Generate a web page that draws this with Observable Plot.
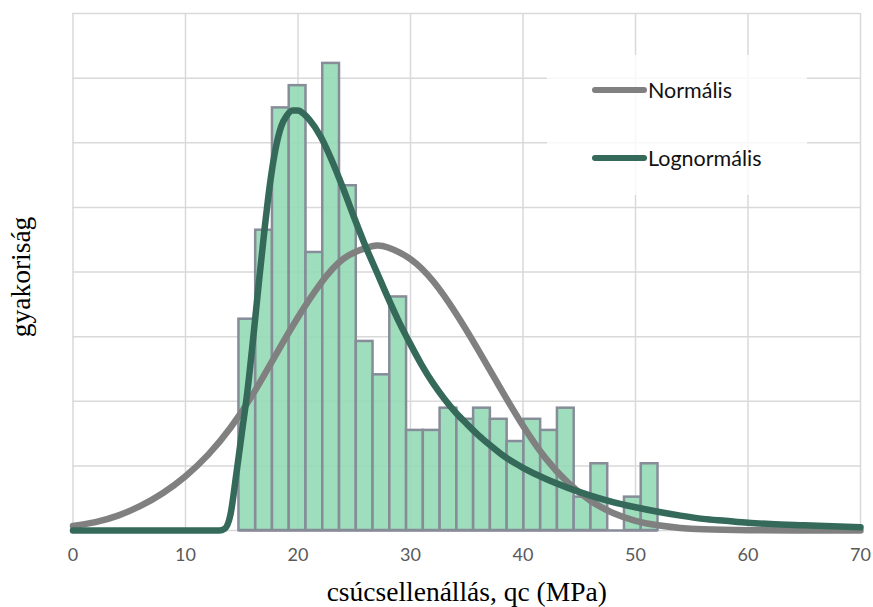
<!DOCTYPE html>
<html>
<head>
<meta charset="utf-8">
<script src="https://cdn.jsdelivr.net/npm/d3@7"></script>
<script src="https://cdn.jsdelivr.net/npm/@observablehq/plot@0.6"></script>
<style>
  body { margin: 0; background: #fff; }
  #wrap { position: relative; width: 873px; height: 607px; }
  #legend { position: absolute; left: 547px; top: 55px; width: 260px; height: 140px;
            background: rgba(255,255,255,0.8); font-family: Lato, "Open Sans", sans-serif; font-size: 21.5px; color: #111; }
  .item { position: absolute; left: 44px; display: flex; align-items: center; }
  .item svg { display: block; margin-right: 0px; }
</style>
</head>
<body>
<div id="wrap"><div id="legend"></div></div>
<script>
// ---- data ----
const binEdges = [14.75, 16.24, 17.73, 19.22, 20.71, 22.20, 23.69, 25.18, 26.67, 28.16,
                  29.65, 31.14, 32.63, 34.12, 35.61, 37.10, 38.59, 40.08, 41.57, 43.06,
                  44.55, 46.04, 47.53, 49.02, 50.51, 52.00];
const binCounts = [19, 27, 38, 40, 25, 42, 31, 17, 14, 21,
                   9, 9, 11, 10, 11, 10, 8, 10, 9, 11,
                   3, 6, 0, 3, 6];

const normalX = [0, 2, 4, 6, 8, 10, 12, 14, 16, 18, 20, 22, 24, 26, 27, 28, 30, 32, 34, 36, 38, 40, 42, 44, 46, 48, 50, 52, 54, 56, 60, 65, 70];
const normalY = [0.0007, 0.0013, 0.0023, 0.0038, 0.0058, 0.0084, 0.0117, 0.0159, 0.0211, 0.0271, 0.0330, 0.0382, 0.0420, 0.0437, 0.0441, 0.0438, 0.0420, 0.0386, 0.0337, 0.0280, 0.0220, 0.0162, 0.0112, 0.0074, 0.0046, 0.0027, 0.0015, 0.0008, 0.0004, 0.0002, 0.00005, 0, 0];

const lognormX = [0, 5, 10, 12, 13, 13.5, 14, 14.5, 15, 15.5, 16, 16.5, 17, 17.5, 18, 18.5, 19, 19.5, 20, 20.5, 21, 22, 23, 24, 25, 26, 27, 28, 29, 30, 31, 32, 33, 34, 35, 36, 37, 38, 39, 40, 42, 44, 46, 48, 50, 52, 54, 56, 58, 60, 62, 65, 70];
const lognormY = [0, 0, 0, 0, 0, 0.0003, 0.0025, 0.0085, 0.0150, 0.0215, 0.0295, 0.0380, 0.0462, 0.0535, 0.0590, 0.0625, 0.0642, 0.0650, 0.0650, 0.0645, 0.0636, 0.0610, 0.0573, 0.0530, 0.0484, 0.0440, 0.0400, 0.0360, 0.0322, 0.0288, 0.0256, 0.0228, 0.0204, 0.0183, 0.0165, 0.0148, 0.0133, 0.0119, 0.0107, 0.0097, 0.0080, 0.0066, 0.0054, 0.0044, 0.0036, 0.0029, 0.0023, 0.0018, 0.0015, 0.0012, 0.0010, 0.0008, 0.0005];

const xTicks = [0, 10, 20, 30, 40, 50, 60, 70];
const yGrid = [0, 0.01, 0.02, 0.03, 0.04, 0.05, 0.06, 0.07, 0.08];
const xTitle = "csúcsellenállás, qc (MPa)";
const yTitle = "gyakoriság";
const seriesNames = ["Normális", "Lognormális"];
const seriesColors = ["#808080", "#35695a"];

// ---- build tables ----
const total = d3.sum(binCounts);
const bins = binCounts.map((c, i) => ({
  x0: binEdges[i], x1: binEdges[i + 1], count: c,
  density: c / (total * (binEdges[i + 1] - binEdges[i]))
}));
const normal = normalX.map((x, i) => ({x, y: normalY[i]}));
const lognorm = lognormX.map((x, i) => ({x, y: lognormY[i]}));

const gridColor = "#d9d9d9";
const barStroke = "#868d99";
const serif = "'Liberation Serif', 'Times New Roman', serif";

const chart = Plot.plot({
  width: 873,
  height: 607,
  marginLeft: 72.5,
  marginRight: 13,
  marginTop: 13,
  marginBottom: 77,
  style: {background: "transparent"},
  x: {domain: [0, 70]},
  y: {domain: [0, 0.08], axis: null},
  marks: [
    Plot.ruleY(yGrid, {stroke: gridColor, strokeWidth: 1.5}),
    Plot.ruleX(xTicks, {stroke: gridColor, strokeWidth: 1.5}),
    Plot.rect(bins, {x1: "x0", x2: "x1", y1: 0, y2: "density", fill: "#95dab5", fillOpacity: 0.9,
                     stroke: barStroke, strokeWidth: 2.5}),
    Plot.ruleY(bins, {y: 0, x1: "x0", x2: "x1", stroke: barStroke, strokeWidth: 2.5}),
    Plot.line(normal, {x: "x", y: "y", stroke: seriesColors[0], strokeWidth: 6.5, curve: "natural"}),
    Plot.line(lognorm, {x: "x", y: "y", stroke: seriesColors[1], strokeWidth: 6.5, curve: "monotone-x"}),
    Plot.axisX(xTicks, {tickSize: 0, tickPadding: 18, label: null, fontSize: 18,
                        fontFamily: "Lato, sans-serif", color: "#595959"}),
    Plot.text([xTitle], {text: d => d, frameAnchor: "bottom", dy: 62, lineAnchor: "middle", textAnchor: "middle",
                         fontSize: 27.5, fontFamily: serif, fill: "#000"}),
    Plot.text([yTitle], {text: d => d, frameAnchor: "left", dx: -52, dy: 5, rotate: -90, lineAnchor: "middle", textAnchor: "middle",
                         fontSize: 27.5, fontFamily: serif, fill: "#000"})
  ]
});
document.getElementById("wrap").prepend(chart);

// ---- legend ----
const legend = document.getElementById("legend");
seriesNames.forEach((name, i) => {
  const item = document.createElement("div");
  item.className = "item";
  item.style.top = (i === 0 ? 22 : 90) + "px";
  item.innerHTML = `<svg width="57" height="10"><line x1="4" y1="5" x2="53" y2="5" stroke="${seriesColors[i]}" stroke-width="6" stroke-linecap="round"/></svg><span>${name}</span>`;
  legend.appendChild(item);
});
</script>
</body>
</html>
